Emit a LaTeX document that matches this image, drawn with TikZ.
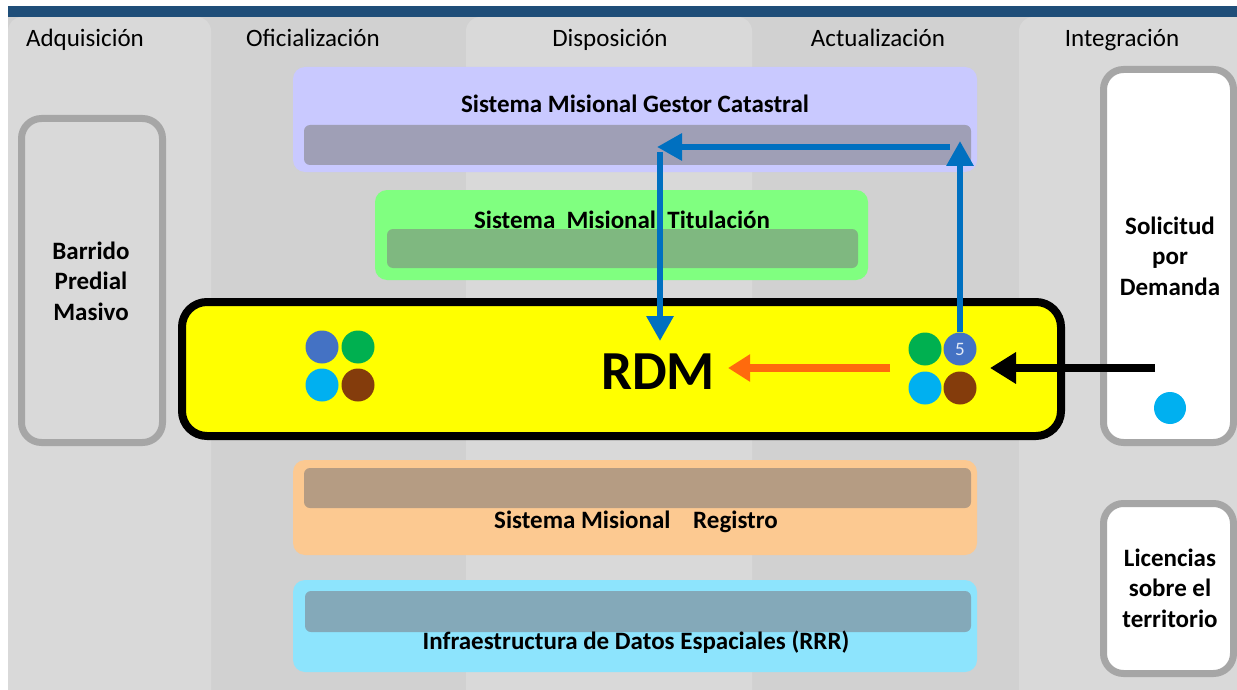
\documentclass[tikz,border=0pt]{standalone}
\usepackage{fontspec}
\setmainfont{Carlito}
\usepackage{xcolor}
\usetikzlibrary{arrows.meta,positioning}
\definecolor{vtopbar}{HTML}{1F4E79}
\definecolor{vbglight}{HTML}{D9D9D9}
\definecolor{vbgdark}{HTML}{D1D1D1}
\definecolor{vframe}{HTML}{A6A6A6}
\definecolor{vgestor}{HTML}{C9C9FF}
\definecolor{vgestorbar}{HTML}{9F9FB6}
\definecolor{vtitul}{HTML}{80FF80}
\definecolor{vtitulbar}{HTML}{7FB880}
\definecolor{vregis}{HTML}{FCC991}
\definecolor{vregisbar}{HTML}{B59C83}
\definecolor{vide}{HTML}{8DE4FD}
\definecolor{videbar}{HTML}{84A9B9}
\definecolor{vyellow}{HTML}{FFFF00}
\definecolor{vblue}{HTML}{0070C0}
\definecolor{vorange}{HTML}{FF6A0D}
\definecolor{vdotblue}{HTML}{4472C4}
\definecolor{vdotgreen}{HTML}{00B050}
\definecolor{vdotcyan}{HTML}{00B0F0}
\definecolor{vdotbrown}{HTML}{843C0C}

\tikzset{
	colhead/.style={font=\fontsize{25}{29}\selectfont, text=black, inner sep=0pt, anchor=base},
	sysbox/.style={rounded corners=12pt, inner sep=0pt},
	sysbar/.style={rounded corners=6pt, inner sep=0pt, minimum height=40pt},
	systitle/.style={font=\bfseries\fontsize{25}{29}\selectfont, inner sep=0pt},
	sidebox/.style={draw=vframe, line width=7pt, rounded corners=20pt, inner sep=0pt},
	sidetext/.style={font=\bfseries\fontsize{25}{30.5}\selectfont, align=center, inner sep=0pt},
	dot/.style={circle, minimum size=33pt, inner sep=0pt},
	flow/.style={line width=6pt, -{Triangle[length=25pt, width=26pt]}}
}

\begin{document}
\begin{tikzpicture}[x=1pt, y=-1pt]
		\useasboundingbox (0,0) rectangle (1237,690);
		% fondo y columnas
		\fill[color=white] (0,0) rectangle (1237,690);
		\fill[color=vbgdark] (8,17) rectangle (1237,690);
		\fill[color=vbglight, rounded corners=14pt] (8,17) rectangle (211,720);
		\fill[color=vbglight, rounded corners=14pt] (466,17) rectangle (752,720);
		\fill[color=vbglight, rounded corners=14pt] (1019,17) rectangle (1270,720);
		\fill[color=vtopbar] (8,6) rectangle (1237,17);
		\node[colhead] (adq) at (85,47) {Adquisición};
		\node[colhead] (ofi) at (313,47) {Oficialización};
		\node[colhead] (dis) at (610,47) {Disposición};
		\node[colhead] (act) at (878,47) {Actualización};
		\node[colhead] (integ) at (1122,47) {Integración};
		% sistemas misionales
		\node[sysbox, fill=vgestor, minimum width=684pt, minimum height=105pt] (gestor) at (635,119.5) {};
		\node[sysbar, fill=vgestorbar, minimum width=667pt] (gestorbar) at (637.5,145) {};
		\node[systitle] (gestortxt) at (635,104) {Sistema Misional Gestor Catastral};
		\node[sysbox, fill=vtitul, minimum width=493pt, minimum height=90pt] (titul) at (621.5,235) {};
		\node[sysbar, fill=vtitulbar, minimum width=471pt, minimum height=39pt] (titulbar) at (622.5,248.5) {};
		\node[systitle] (titultxt) at (622,220) {Sistema\ \ Misional\ \ Titulación};
		\node[sysbox, fill=vregis, minimum width=684pt, minimum height=95pt] (regis) at (635,507.5) {};
		\node[sysbar, fill=vregisbar, minimum width=667pt] (regisbar) at (637.5,488) {};
		\node[systitle] (registxt) at (636,522) {Sistema Misional\ \ \ \ Registro};
		\node[sysbox, fill=vide, minimum width=684pt, minimum height=92pt] (ide) at (635,626) {};
		\node[sysbar, fill=videbar, minimum width=666pt, minimum height=41pt] (idebar) at (638,611.5) {};
		\node[systitle] (idetxt) at (636,642) {Infraestructura de Datos Espaciales (RRR)};
		% cajas laterales
		\node[sidebox, minimum width=141pt, minimum height=324pt] (barrido) at (92,280.5) {};
		\node[sidetext] (barridotxt) at (91,281) {Barrido\\Predial\\Masivo};
		\node[sidebox, fill=white, minimum width=130pt, minimum height=373pt] (solic) at (1168.5,256) {};
		\node[sidetext] (solictxt) at (1170,256) {Solicitud\\por\\Demanda};
		\node[dot, fill=vdotcyan, minimum size=32pt] (solicdot) at (1170,408) {};
		\node[sidebox, fill=white, minimum width=130pt, minimum height=170pt] (licen) at (1168.5,588.5) {};
		\node[sidetext] (licentxt) at (1170,588) {Licencias\\sobre el\\territorio};
		% RDM
		\node[draw=black, line width=8pt, fill=vyellow, rounded corners=25pt, minimum width=879pt, minimum height=134pt, inner sep=0pt] (rdmbox) at (621.5,369) {};
		\node[font=\bfseries\fontsize{55}{60}\selectfont, inner sep=0pt] (rdm) at (658,372) {RDM};
		\node[dot, fill=vdotblue] (lblue) at (322,347) {};
		\node[dot, fill=vdotgreen] (lgreen) at (358,347) {};
		\node[dot, fill=vdotcyan] (lcyan) at (322,385) {};
		\node[dot, fill=vdotbrown] (lbrown) at (358,385) {};
		\node[dot, fill=vdotgreen] (rgreen) at (925,349) {};
		\node[dot, fill=vdotblue, text=white!85!vdotblue, font=\fontsize{19}{21}\selectfont] (rblue) at (960,349) {5};
		\node[dot, fill=vdotcyan] (rcyan) at (925,388) {};
		\node[dot, fill=vdotbrown] (rbrown) at (960,388) {};
		% flujos
		\coordinate (orgin) at (890,368);
		\coordinate (solicin) at (1155,368);
		\coordinate (rdmin) at (990,368);
		\coordinate (gestorup) at (960,141);
		\coordinate (gestorright) at (950,147);
		\coordinate (gestorleft) at (657,147);
		\coordinate (downtop) at (660,152);
		\coordinate (downend) at (660,341);
		\draw[color=vblue, flow] (rblue.north) -- (gestorup);
		\draw[color=vblue, flow] (gestorright) -- (gestorleft);
		\draw[color=vblue, flow] (downtop) -- (downend);
		\draw[color=vorange, line width=8pt, -{Triangle[length=22pt, width=26pt]}] (orgin) -- ([xshift=13pt]orgin -| rdm.east);
		\draw[color=black, line width=8pt, -{Triangle[length=26pt, width=30pt]}] (solicin) -- (rdmin);
	\end{tikzpicture}
\end{document}
